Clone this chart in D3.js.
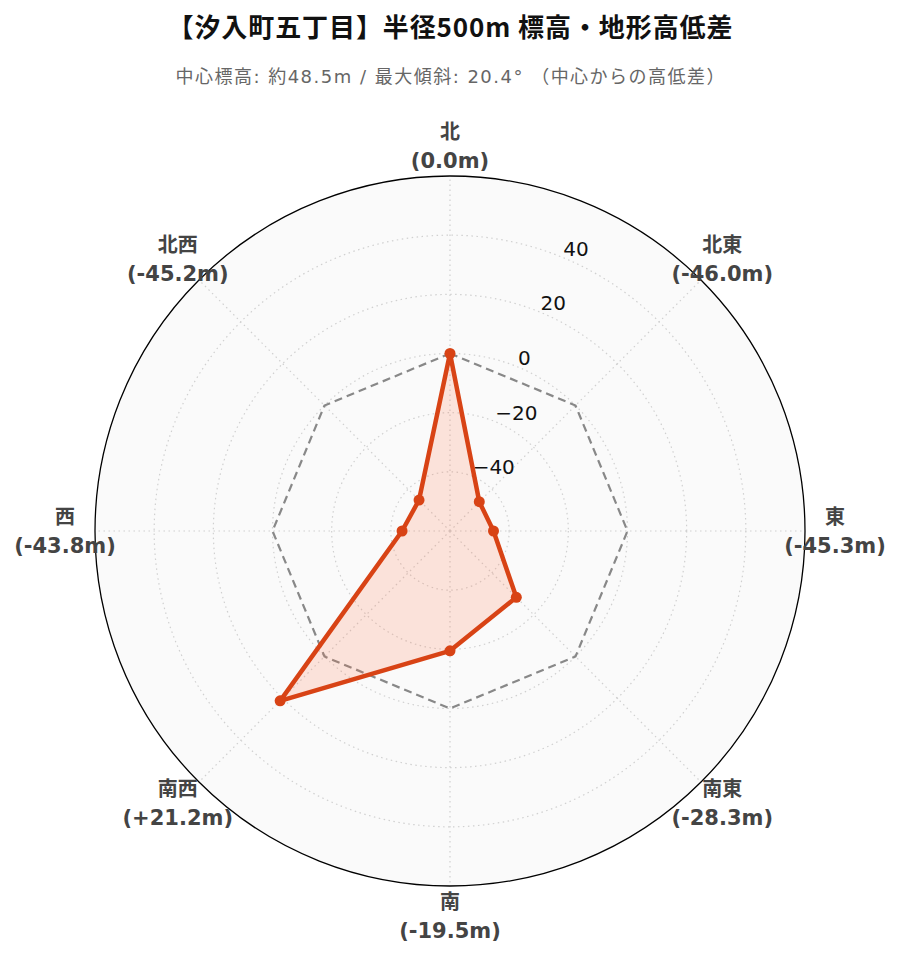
<!DOCTYPE html>
<html><head><meta charset="utf-8">
<script src="https://cdn.jsdelivr.net/npm/d3@7"></script>
<style>body{margin:0;background:#fff}</style>
</head><body>
<svg id="chart" width="899" height="962"></svg>
<script>
const directions = ["北","北東","東","南東","南","南西","西","北西"];
const values = [0.0, -46.0, -45.3, -28.3, -19.5, 21.2, -43.8, -45.2];
const valueLabels = ["(0.0m)","(-46.0m)","(-45.3m)","(-28.3m)","(-19.5m)","(+21.2m)","(-43.8m)","(-45.2m)"];
const radialTicks = [-40, -20, 0, 20, 40];
const gridValues = [-40, -20, 0, 20, 40];
const rDomain = [-60, 60];
const title = "【汐入町五丁目】半径500m 標高・地形高低差";
const subtitle = "中心標高: 約48.5m / 最大傾斜: 20.4° （中心からの高低差）";

const svg = d3.select("#chart");
const cx = 450, cy = 531, R = 355;
const r = d3.scaleLinear().domain(rDomain).range([0, R]);
const ang = d3.scaleLinear().domain([0, directions.length]).range([0, 2*Math.PI]);
const px = (a, rr) => cx + rr*Math.sin(a);
const py = (a, rr) => cy - rr*Math.cos(a);

svg.append("text").attr("x", 450).attr("y", 37).attr("text-anchor","middle")
  .attr("font-family","'Noto Sans CJK JP', sans-serif").attr("font-weight","bold")
  .attr("font-size", 26).attr("fill","#111")
  .attr("textLength", 565).attr("lengthAdjust","spacing").text(title);
svg.append("text").attr("x", 450).attr("y", 83).attr("text-anchor","middle")
  .attr("font-family","'DejaVu Sans','Noto Sans CJK JP', sans-serif")
  .attr("font-size", 18).attr("fill","#666")
  .attr("textLength", 549).attr("lengthAdjust","spacing").text(subtitle);

const g = svg.append("g");
g.append("circle").attr("cx",cx).attr("cy",cy).attr("r",R).attr("fill","#fafafa");
gridValues.forEach(v => {
  g.append("circle").attr("cx",cx).attr("cy",cy).attr("r",r(v)).attr("fill","none")
   .attr("stroke","#d0d0d0").attr("stroke-width",1.2).attr("stroke-dasharray","1.5,3.5");
});
directions.forEach((d,i) => {
  const a = ang(i);
  g.append("line").attr("x1",cx).attr("y1",cy).attr("x2",px(a,R)).attr("y2",py(a,R))
   .attr("stroke","#d0d0d0").attr("stroke-width",1.2).attr("stroke-dasharray","1.5,3.5");
});
g.append("circle").attr("cx",cx).attr("cy",cy).attr("r",R).attr("fill","none")
  .attr("stroke","#000").attr("stroke-width",1.3);

// radial tick labels
const la = 22.5*Math.PI/180;
radialTicks.forEach(v => {
  g.append("text").attr("x", px(la, r(v))).attr("y", py(la, r(v)) - 2)
   .attr("font-family","'DejaVu Sans', sans-serif").attr("font-size",20).attr("fill","#111")
   .text(v < 0 ? "\u2212" + Math.abs(v) : String(v));
});

// zero reference dashed octagon
const zeroLine = d3.lineRadial().angle((d,i)=>ang(i)).radius(() => r(0)).curve(d3.curveLinearClosed);
g.append("path").attr("transform",`translate(${cx},${cy})`).attr("d", zeroLine(values))
  .attr("fill","none").attr("stroke","#888").attr("stroke-width",2.2).attr("stroke-dasharray","8,5");

// data polygon
const dataLine = d3.lineRadial().angle((d,i)=>ang(i)).radius(d => r(d)).curve(d3.curveLinearClosed);
g.append("path").attr("transform",`translate(${cx},${cy})`).attr("d", dataLine(values))
  .attr("fill","rgba(255,112,67,0.175)").attr("stroke","#d84315").attr("stroke-width",4.5)
  .attr("stroke-linejoin","round");
values.forEach((v,i) => {
  g.append("circle").attr("cx", px(ang(i), r(v))).attr("cy", py(ang(i), r(v))).attr("r",5.5)
   .attr("fill","#d84315");
});

// category labels
directions.forEach((d,i) => {
  const a = ang(i), lr = 385;
  const x = px(a, lr), y = py(a, lr);
  const t = g.append("text").attr("text-anchor","middle")
    .attr("font-family","'DejaVu Sans','Noto Sans CJK JP', sans-serif").attr("font-weight","bold")
    .attr("font-size",21).attr("fill","#444");
  t.append("tspan").attr("x",x).attr("y",y - 7).attr("font-family","'Noto Sans CJK JP', sans-serif").attr("font-size",20).text(d);
  t.append("tspan").attr("x",x).attr("y",y + 22).text(valueLabels[i]);
});
</script>
</body></html>
